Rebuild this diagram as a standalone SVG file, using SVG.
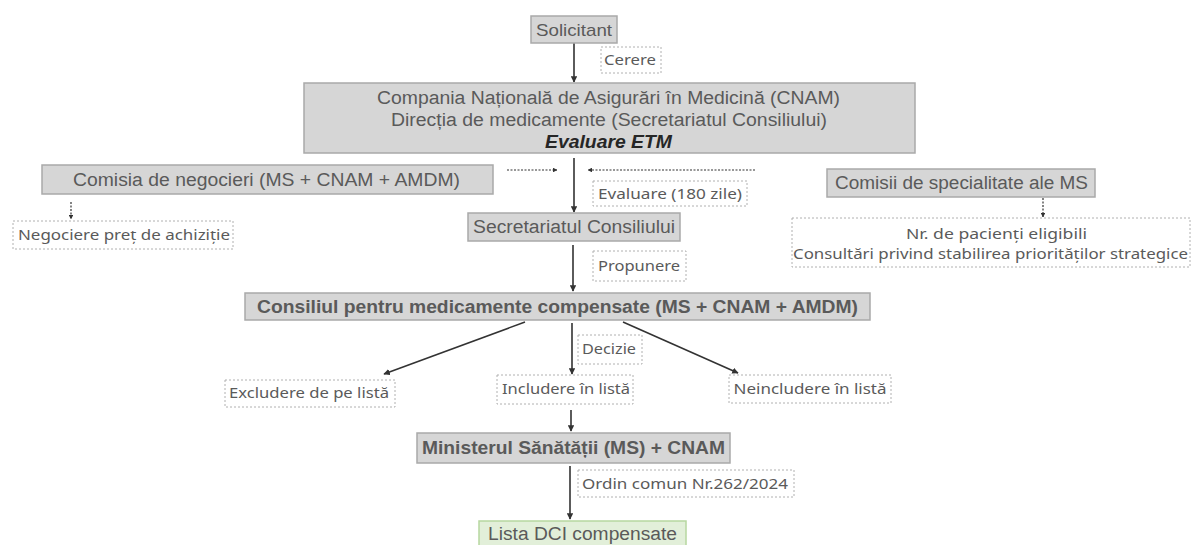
<svg xmlns="http://www.w3.org/2000/svg" width="1192" height="545" viewBox="0 0 1192 545">
<style>
.box{fill:#d6d6d6;stroke:#a9a9a9;stroke-width:1.5}
.green{fill:#e2efd9;stroke:#b7d7a0;stroke-width:1.5}
.lbl{fill:#ffffff;stroke:#b0b0b0;stroke-width:1;stroke-dasharray:2 2}
.t{font-family:"Liberation Sans",Arial,sans-serif;font-size:18px;fill:#5a5a5a;text-anchor:middle}
.b{font-weight:bold}
.l{font-family:"Noto Sans","Open Sans",sans-serif;font-size:15px;fill:#5a5a5a;text-anchor:middle}
.a{fill:none;stroke:#333333;stroke-width:1.6;marker-end:url(#ah)}
.d{fill:none;stroke:#333333;stroke-width:1.2;stroke-dasharray:2 1.5;marker-end:url(#ahs)}
</style>
<defs>
<marker id="ah" viewBox="0 0 10 10" refX="9" refY="5" markerWidth="4" markerHeight="4" orient="auto"><path d="M0,0 L10,5 L0,10 z" fill="#333333"/></marker>
<marker id="ahs" viewBox="0 0 10 10" refX="9" refY="5" markerWidth="4" markerHeight="4" orient="auto"><path d="M0,0 L10,5 L0,10 z" fill="#333333"/></marker>
</defs>
<rect width="1192" height="545" fill="#ffffff"/>

<g id="connectors">
<line class="a" x1="574" y1="43" x2="574" y2="82"/>
<line class="a" x1="574" y1="158" x2="574" y2="212"/>
<line class="a" x1="573" y1="245" x2="573" y2="291"/>
<line class="a" x1="572" y1="323" x2="572" y2="374"/>
<line class="a" x1="525" y1="322" x2="384" y2="374"/>
<line class="a" x1="623" y1="322" x2="738" y2="373"/>
<line class="a" x1="571" y1="410" x2="571" y2="431"/>
<line class="a" x1="570" y1="466" x2="570" y2="519"/>
<line class="d" x1="507" y1="170" x2="557" y2="170"/>
<line class="d" x1="755" y1="170" x2="588" y2="170"/>
<line class="d" x1="71" y1="202" x2="71" y2="219"/>
<line class="d" x1="1043" y1="198" x2="1043" y2="217"/>
</g>

<g id="solicitant"><rect class="box" x="531" y="16" width="86" height="27"/><text class="t" x="574" y="36" textLength="76" lengthAdjust="spacingAndGlyphs" style="font-size:17px">Solicitant</text></g>
<g id="lbl-cerere"><rect class="lbl" x="601" y="47" width="60" height="26"/><text class="l" x="630" y="65" textLength="52" lengthAdjust="spacingAndGlyphs">Cerere</text></g>

<g id="cnam"><rect class="box" x="304" y="83" width="611" height="70"/>
<text class="t" x="608.5" y="104" textLength="463" lengthAdjust="spacingAndGlyphs">Compania Națională de Asigurări în Medicină (CNAM)</text>
<text class="t" x="609" y="126" textLength="436" lengthAdjust="spacingAndGlyphs">Direcția de medicamente (Secretariatul Consiliului)</text>
<text class="t b" x="608.5" y="148" textLength="127" lengthAdjust="spacingAndGlyphs" style="font-style:italic;fill:#262626">Evaluare ETM</text></g>

<g id="comisia-negocieri"><rect class="box" x="42" y="165" width="451" height="29"/><text class="t" x="266.5" y="186" textLength="387" lengthAdjust="spacingAndGlyphs">Comisia de negocieri (MS + CNAM + AMDM)</text></g>
<g id="negociere"><rect class="lbl" x="13" y="221" width="220" height="28"/><text class="l" x="124" y="240" textLength="212" lengthAdjust="spacingAndGlyphs">Negociere preț de achiziție</text></g>

<g id="lbl-evaluare"><rect class="lbl" x="593" y="181" width="154" height="25"/><text class="l" x="670" y="199" textLength="144" lengthAdjust="spacingAndGlyphs">Evaluare (180 zile)</text></g>

<g id="comisii-specialitate"><rect class="box" x="827" y="169" width="268" height="28"/><text class="t" x="961.5" y="189" textLength="253" lengthAdjust="spacingAndGlyphs">Comisii de specialitate ale MS</text></g>
<g id="pacienti"><rect class="lbl" x="792" y="218" width="398" height="49"/>
<text class="l" x="996.5" y="239" textLength="181" lengthAdjust="spacingAndGlyphs">Nr. de pacienți eligibili</text>
<text class="l" x="990.5" y="259" textLength="395" lengthAdjust="spacingAndGlyphs">Consultări privind stabilirea priorităților strategice</text></g>

<g id="secretariat"><rect class="box" x="468" y="213" width="212" height="28"/><text class="t" x="574" y="233" textLength="202" lengthAdjust="spacingAndGlyphs">Secretariatul Consiliului</text></g>
<g id="lbl-propunere"><rect class="lbl" x="593" y="251" width="93" height="30"/><text class="l" x="639" y="271" textLength="82" lengthAdjust="spacingAndGlyphs">Propunere</text></g>

<g id="consiliul"><rect class="box" x="245" y="293" width="625" height="27"/><text class="t b" x="557.5" y="313" textLength="601" lengthAdjust="spacingAndGlyphs">Consiliul pentru medicamente compensate (MS + CNAM + AMDM)</text></g>
<g id="lbl-decizie"><rect class="lbl" x="578" y="335" width="64" height="29"/><text class="l" x="609" y="354" textLength="54" lengthAdjust="spacingAndGlyphs">Decizie</text></g>

<g id="excludere"><rect class="lbl" x="225" y="380" width="170" height="27"/><text class="l" x="309" y="398" textLength="160" lengthAdjust="spacingAndGlyphs">Excludere de pe listă</text></g>
<g id="includere"><rect class="lbl" x="497" y="375" width="136" height="29"/><text class="l" x="566" y="394" textLength="128" lengthAdjust="spacingAndGlyphs">Includere în listă</text></g>
<g id="neincludere"><rect class="lbl" x="729" y="375" width="162" height="28"/><text class="l" x="810" y="394" textLength="153" lengthAdjust="spacingAndGlyphs">Neincludere în listă</text></g>

<g id="ministerul"><rect class="box" x="417" y="433" width="313" height="30"/><text class="t b" x="573.5" y="454" textLength="303" lengthAdjust="spacingAndGlyphs">Ministerul Sănătății (MS) + CNAM</text></g>
<g id="lbl-ordin"><rect class="lbl" x="578" y="470" width="216" height="27"/><text class="l" x="685" y="489" textLength="206" lengthAdjust="spacingAndGlyphs">Ordin comun Nr.262/2024</text></g>

<g id="lista"><rect class="green" x="479" y="521" width="207" height="25"/><text class="t" x="582.5" y="540" textLength="189" lengthAdjust="spacingAndGlyphs">Lista DCI compensate</text></g>
</svg>
